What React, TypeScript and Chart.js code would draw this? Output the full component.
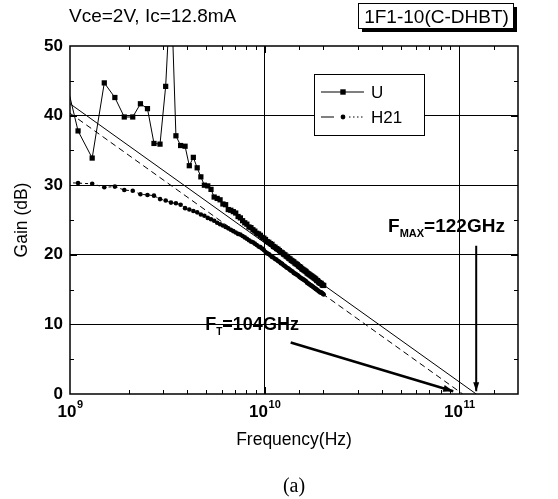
import React, { useEffect, useRef } from 'react';
import { Chart, registerables } from 'chart.js';

Chart.register(...registerables);

const FONT = "'Liberation Sans', Arial, Helvetica, sans-serif";
const SERIF = "'Liberation Serif', 'Times New Roman', serif";

// Frequencies in GHz
const freqGHz = [
  0.9, 1.1, 1.3, 1.5, 1.7, 1.9, 2.1, 2.3, 2.5, 2.7,
  2.9, 3.1, 3.3, 3.5, 3.7, 3.9, 4.1, 4.3, 4.5, 4.7,
  4.9, 5.1, 5.3, 5.5, 5.7, 5.9, 6.1, 6.3, 6.5, 6.7,
  6.9, 7.1, 7.3, 7.5, 7.7, 7.9, 8.1, 8.3, 8.5, 8.7,
  8.9, 9.1, 9.3, 9.5, 9.7, 9.9, 10.1, 10.3, 10.5, 10.7,
  10.9, 11.1, 11.3, 11.5, 11.7, 11.9, 12.1, 12.3, 12.5, 12.7,
  12.9, 13.1, 13.3, 13.5, 13.7, 13.9, 14.1, 14.3, 14.5, 14.7,
  14.9, 15.1, 15.3, 15.5, 15.7, 15.9, 16.1, 16.3, 16.5, 16.7,
  16.9, 17.1, 17.3, 17.5, 17.7, 17.9, 18.1, 18.3, 18.5, 18.7,
  18.9, 19.1, 19.3, 19.5, 19.7, 19.9, 20.1,
];

// Unilateral gain U (dB)
const gainU = [
  48.0, 37.8, 33.9, 44.7, 42.6, 39.8, 39.8, 41.7, 41.0, 36.0,
  35.9, 44.2, 59.0, 37.1, 35.7, 35.6, 32.8, 34.0, 32.5, 31.2,
  30.0, 29.9, 29.4, 28.3, 28.1, 27.9, 27.3, 27.2, 26.5, 26.4,
  26.2, 26.0, 25.5, 25.3, 24.9, 24.6, 24.4, 24.0, 23.9, 23.6,
  23.4, 23.1, 23.0, 22.8, 22.5, 22.4, 22.2, 21.9, 21.8, 21.6,
  21.5, 21.2, 21.1, 20.9, 20.8, 20.6, 20.4, 20.3, 20.1, 20.0,
  19.8, 19.7, 19.5, 19.4, 19.2, 19.1, 19.0, 18.8, 18.7, 18.6,
  18.4, 18.3, 18.2, 18.0, 17.9, 17.8, 17.7, 17.6, 17.4, 17.3,
  17.2, 17.1, 17.0, 16.9, 16.8, 16.7, 16.6, 16.5, 16.3, 16.3,
  16.1, 16.0, 15.9, 15.9, 15.7, 15.6, 15.6,
];

// Current gain H21 (dB)
const gainH21 = [
  30.4, 30.3, 30.2, 29.7, 29.8, 29.3, 29.2, 28.7, 28.6, 28.5,
  28.0, 27.8, 27.5, 27.4, 27.2, 26.7, 26.5, 26.3, 26.1, 25.8,
  25.6, 25.3, 25.1, 24.9, 24.6, 24.4, 24.2, 24.0, 23.8, 23.6,
  23.4, 23.2, 23.0, 22.9, 22.7, 22.5, 22.3, 22.1, 21.9, 21.8,
  21.6, 21.4, 21.2, 21.1, 20.9, 20.7, 20.4, 20.2, 20.1, 19.9,
  19.7, 19.6, 19.4, 19.3, 19.1, 19.0, 18.8, 18.7, 18.5, 18.4,
  18.2, 18.1, 18.0, 17.8, 17.7, 17.6, 17.4, 17.3, 17.2, 17.1,
  17.0, 16.8, 16.7, 16.6, 16.5, 16.4, 16.3, 16.2, 16.0, 15.9,
  15.8, 15.7, 15.6, 15.5, 15.4, 15.3, 15.2, 15.1, 15.0, 14.9,
  14.8, 14.7, 14.6, 14.6, 14.5, 14.4, 14.3,
];

// -20 dB/dec extrapolation lines (Hz, dB)
const fitUFreq = [1e9, 1.22e11];
const fitUGain = [41.7, 0];
const fitH21Freq = [1e9, 1.04e11];
const fitH21Gain = [40.34, 0];

// Annotation arrows (Hz, dB)
const ftArrowFreq = [1.36e10, 9.3e10];
const ftArrowGain = [7.4, 0.4];
const fmaxArrowFreq = [1.22e11, 1.22e11];
const fmaxArrowGain = [21.3, 0.4];

const xMin = 1e9;
const xMax = 2e11;
const yMin = 0;
const yMax = 50;
const yStep = 5;
const xTickExponents = [9, 10, 11];

const seriesNames = ['U', 'H21'];
const topText = 'Vce=2V, Ic=12.8mA';
const boxText = '1F1-10(C-DHBT)';
const xTitle = 'Frequency(Hz)';
const yTitle = 'Gain (dB)';
const caption = '(a)';
const ftLabel = { main: 'F', sub: 'T', rest: '=104GHz' };
const fmaxLabel = { main: 'F', sub: 'MAX', rest: '=122GHz' };
// label anchors in data coordinates (Hz, dB) — left / baseline
const ftLabelAt = { x: 4.95e9, y: 9.2 };
const fmaxLabelAt = { x: 4.3e10, y: 23.3 };

const toPts = (xs: number[], ys: number[]) => xs.map((x, i) => ({ x, y: ys[i] }));

const isPow10 = (v: number) => {
  const l = Math.log10(v);
  return Math.abs(l - Math.round(l)) < 1e-9;
};

function arrowHead(ctx: CanvasRenderingContext2D, x1: number, y1: number, x2: number, y2: number, len: number, half: number) {
  const a = Math.atan2(y2 - y1, x2 - x1);
  ctx.beginPath();
  ctx.moveTo(x2, y2);
  ctx.lineTo(x2 - len * Math.cos(a) + half * Math.sin(a), y2 - len * Math.sin(a) - half * Math.cos(a));
  ctx.lineTo(x2 - len * Math.cos(a) - half * Math.sin(a), y2 - len * Math.sin(a) + half * Math.cos(a));
  ctx.closePath();
  ctx.fill();
}

function subLabel(ctx: CanvasRenderingContext2D, x: number, y: number, lab: { main: string; sub: string; rest: string }, size: number) {
  ctx.textAlign = 'left';
  ctx.textBaseline = 'alphabetic';
  ctx.font = `bold ${size}px ${FONT}`;
  ctx.fillText(lab.main, x, y);
  let cx = x + ctx.measureText(lab.main).width;
  const ss = Math.round(size * 0.58);
  ctx.font = `bold ${ss}px ${FONT}`;
  ctx.fillText(lab.sub, cx, y + 5);
  cx += ctx.measureText(lab.sub).width;
  ctx.font = `bold ${size}px ${FONT}`;
  ctx.fillText(lab.rest, cx, y);
}

const overlay = {
  id: 'overlay',
  beforeDraw(chart: any) {
    const ctx = chart.ctx;
    ctx.save();
    ctx.fillStyle = '#fff';
    ctx.fillRect(0, 0, chart.width, chart.height);
    ctx.restore();
  },
  afterDraw(chart: any) {
    const ctx: CanvasRenderingContext2D = chart.ctx;
    const { left, right, top, bottom } = chart.chartArea;
    const xs = chart.scales.x;
    const ys = chart.scales.y;
    ctx.save();
    ctx.strokeStyle = '#000';
    ctx.fillStyle = '#000';

    // frame
    ctx.lineWidth = 1.5;
    ctx.strokeRect(left, top, right - left, bottom - top);

    // inward ticks
    ctx.lineWidth = 1;
    ctx.beginPath();
    xs.ticks.forEach((t: any) => {
      const v = t.value;
      if (v <= xMin || v >= xMax) return;
      const px = Math.round(xs.getPixelForValue(v)) + 0.5;
      const len = isPow10(v) ? 7 : 4;
      ctx.moveTo(px, bottom);
      ctx.lineTo(px, bottom - len);
      ctx.moveTo(px, top);
      ctx.lineTo(px, top + len);
    });
    ys.ticks.forEach((t: any) => {
      const v = t.value;
      if (v <= yMin || v >= yMax) return;
      const py = Math.round(ys.getPixelForValue(v)) + 0.5;
      const len = v % 10 === 0 ? 7 : 4;
      ctx.moveTo(left, py);
      ctx.lineTo(left + len, py);
      ctx.moveTo(right, py);
      ctx.lineTo(right - len, py);
    });
    ctx.stroke();

    // x tick labels with superscripts
    xTickExponents.forEach((e) => {
      const px = xs.getPixelForValue(Math.pow(10, e));
      ctx.font = `bold 17px ${FONT}`;
      const w1 = ctx.measureText('10').width;
      ctx.font = `bold 11px ${FONT}`;
      const w2 = ctx.measureText(String(e)).width;
      const x0 = px - (w1 + w2) / 2;
      ctx.textAlign = 'left';
      ctx.textBaseline = 'alphabetic';
      ctx.font = `bold 17px ${FONT}`;
      ctx.fillText('10', x0, bottom + 23);
      ctx.font = `bold 11px ${FONT}`;
      ctx.fillText(String(e), x0 + w1 + 0.5, bottom + 14);
    });

    // arrowheads
    const ft = chart.getDatasetMeta(4).data;
    if (ft.length === 2) arrowHead(ctx, ft[0].x, ft[0].y, ft[1].x, ft[1].y, 10, 3.5);
    const fm = chart.getDatasetMeta(5).data;
    if (fm.length === 2) arrowHead(ctx, fm[0].x, fm[0].y, fm[1].x, fm[1].y, 9, 3);

    // annotation labels
    subLabel(ctx, xs.getPixelForValue(ftLabelAt.x), ys.getPixelForValue(ftLabelAt.y), ftLabel, 18);
    subLabel(ctx, xs.getPixelForValue(fmaxLabelAt.x), ys.getPixelForValue(fmaxLabelAt.y), fmaxLabel, 19);

    // legend box
    const lx = 314, ly = 74, lw = 110, lh = 61;
    ctx.fillStyle = '#fff';
    ctx.fillRect(lx, ly, lw, lh);
    ctx.fillStyle = '#000';
    ctx.lineWidth = 1;
    ctx.strokeRect(lx + 0.5, ly + 0.5, lw, lh);
    const rows = [ly + 18, ly + 43];
    // U row: solid line with square marker
    ctx.beginPath();
    ctx.setLineDash([]);
    ctx.moveTo(lx + 7, rows[0]);
    ctx.lineTo(lx + 50, rows[0]);
    ctx.stroke();
    ctx.fillRect(lx + 29 - 2.7, rows[0] - 2.7, 5.4, 5.4);
    // H21 row: dash, dot marker, dotted tail
    ctx.beginPath();
    ctx.moveTo(lx + 7, rows[1]);
    ctx.lineTo(lx + 20, rows[1]);
    ctx.stroke();
    ctx.beginPath();
    ctx.setLineDash([1.5, 2.5]);
    ctx.moveTo(lx + 35, rows[1]);
    ctx.lineTo(lx + 51, rows[1]);
    ctx.stroke();
    ctx.setLineDash([]);
    ctx.beginPath();
    ctx.arc(lx + 29, rows[1], 2.4, 0, Math.PI * 2);
    ctx.fill();
    ctx.font = `17px ${FONT}`;
    ctx.textAlign = 'left';
    ctx.textBaseline = 'middle';
    ctx.fillText(seriesNames[0], lx + 57, rows[0] + 1);
    ctx.fillText(seriesNames[1], lx + 57, rows[1] + 1);

    // top texts
    ctx.textBaseline = 'alphabetic';
    ctx.font = `19px ${FONT}`;
    ctx.fillText(topText, 69, 22);
    const bx = 358, by = 3, bw = 155, bh = 25;
    ctx.fillRect(bx + 4, by + bh, bw, 4);
    ctx.fillRect(bx + bw, by + 4, 4, bh);
    ctx.strokeRect(bx + 0.5, by + 0.5, bw, bh);
    ctx.textAlign = 'center';
    ctx.font = `19px ${FONT}`;
    ctx.fillText(boxText, bx + bw / 2 + 1, by + 19.5);

    // caption
    ctx.font = `20px ${SERIF}`;
    ctx.fillText(caption, (left + right) / 2, 492);

    ctx.restore();
  },
};

export default function App() {
  const ref = useRef<HTMLCanvasElement>(null);
  useEffect(() => {
    const canvas = ref.current;
    if (!canvas) return;
    const chart = new Chart(canvas, {
      type: 'scatter',
      data: {
        datasets: [
          {
            label: seriesNames[0],
            data: freqGHz.map((f, i) => ({ x: f * 1e9, y: gainU[i] })),
            showLine: true,
            borderColor: '#000',
            borderWidth: 1,
            pointStyle: 'rect',
            pointRadius: 3.7,
            pointBackgroundColor: '#000',
            pointBorderWidth: 0,
          },
          {
            label: seriesNames[1],
            data: freqGHz.map((f, i) => ({ x: f * 1e9, y: gainH21[i] })),
            showLine: true,
            borderColor: '#000',
            borderWidth: 1,
            borderDash: [3, 3],
            pointStyle: 'circle',
            pointRadius: 2.3,
            pointBackgroundColor: '#000',
            pointBorderWidth: 0,
          },
          {
            label: 'U fit',
            data: toPts(fitUFreq, fitUGain),
            showLine: true,
            borderColor: '#000',
            borderWidth: 1,
            pointRadius: 0,
          },
          {
            label: 'H21 fit',
            data: toPts(fitH21Freq, fitH21Gain),
            showLine: true,
            borderColor: '#000',
            borderWidth: 1,
            borderDash: [6, 4],
            pointRadius: 0,
          },
          {
            label: 'FT arrow',
            data: toPts(ftArrowFreq, ftArrowGain),
            showLine: true,
            borderColor: '#000',
            borderWidth: 2.5,
            pointRadius: 0,
          },
          {
            label: 'FMAX arrow',
            data: toPts(fmaxArrowFreq, fmaxArrowGain),
            showLine: true,
            borderColor: '#000',
            borderWidth: 2,
            pointRadius: 0,
          },
        ],
      },
      options: {
        responsive: false,
        animation: false,
        devicePixelRatio: 1,
        layout: { padding: { left: 0, right: 40, top: 46, bottom: 0 } },
        plugins: { legend: { display: false }, tooltip: { enabled: false } },
        scales: {
          x: {
            type: 'logarithmic',
            min: xMin,
            max: xMax,
            afterFit: (s: any) => {
              s.height = 105;
            },
            ticks: { display: false },
            grid: {
              drawTicks: false,
              lineWidth: 1,
              color: (c: any) => {
                const v = c.tick ? c.tick.value : 0;
                return v > xMin && v < xMax && isPow10(v) ? '#000' : 'rgba(0,0,0,0)';
              },
            },
            border: { display: false },
            title: {
              display: true,
              text: xTitle,
              color: '#000',
              font: { family: FONT, size: 17.5 },
              padding: { top: 0, bottom: 48.5 },
            },
          },
          y: {
            min: yMin,
            max: yMax,
            afterFit: (s: any) => {
              s.width = 70;
            },
            ticks: {
              stepSize: yStep,
              color: '#000',
              padding: 7,
              font: { family: FONT, size: 17, weight: 'bold' },
              callback: (v: any) => (Number(v) % 10 === 0 ? String(v) : ''),
            },
            grid: {
              drawTicks: false,
              lineWidth: 1,
              color: (c: any) => {
                const v = c.tick ? c.tick.value : 0;
                return v > yMin && v < yMax && v % 10 === 0 ? '#000' : 'rgba(0,0,0,0)';
              },
            },
            border: { display: false },
            title: {
              display: true,
              text: yTitle,
              color: '#000',
              font: { family: FONT, size: 17.5 },
              padding: { top: 11.5, bottom: 0 },
            },
          },
        },
      },
      plugins: [overlay],
    } as any);
    return () => chart.destroy();
  }, []);

  return (
    <div style={{ position: 'absolute', left: 0, top: 0, width: 558, height: 499, background: '#fff' }}>
      <canvas ref={ref} width={558} height={499} style={{ display: 'block' }} />
    </div>
  );
}
